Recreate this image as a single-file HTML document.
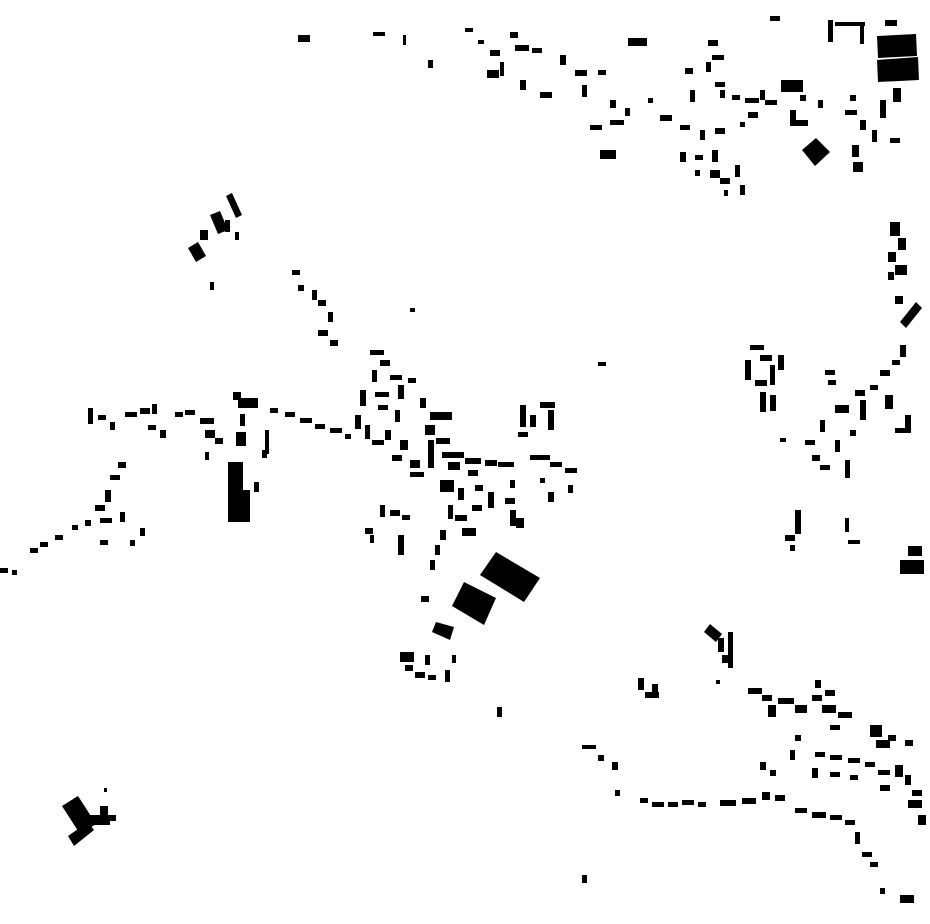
<!DOCTYPE html>
<html><head><meta charset="utf-8"><style>html,body{margin:0;padding:0;background:#fff}svg{display:block}</style></head>
<body>
<svg width="930" height="924" viewBox="0 0 930 924" xmlns="http://www.w3.org/2000/svg" fill="#000">
<!-- top right big blocks -->
<polygon points="877,36 916,34 917,56 878,58"/>
<polygon points="877,60 918,57 919,80 878,82"/>
<polygon points="802,150 816,138 830,152 815,166"/>
<rect x="781" y="80" width="22" height="12"/>
<rect x="885" y="20" width="12" height="6"/><rect x="770" y="16" width="10" height="5"/>
<rect x="828" y="20" width="5" height="22"/><rect x="835" y="22" width="30" height="4"/><rect x="860" y="24" width="4" height="20"/>
<rect x="852" y="145" width="7" height="12"/><rect x="853" y="162" width="10" height="10"/>
<rect x="893" y="88" width="8" height="14"/><rect x="880" y="100" width="6" height="18"/>
<rect x="600" y="150" width="16" height="9"/><rect x="628" y="38" width="19" height="8"/>
<rect x="298" y="35" width="12" height="7"/><rect x="373" y="32" width="12" height="4"/><rect x="403" y="35" width="3" height="10"/><rect x="428" y="60" width="5" height="8"/>
<!-- top cluster scatter -->
<g>
<rect x="465" y="28" width="8" height="4"/><rect x="478" y="40" width="6" height="4"/><rect x="490" y="50" width="10" height="6"/><rect x="487" y="70" width="12" height="8"/><rect x="500" y="62" width="4" height="14"/><rect x="510" y="32" width="8" height="6"/><rect x="515" y="45" width="14" height="6"/><rect x="532" y="48" width="10" height="5"/><rect x="540" y="92" width="12" height="6"/><rect x="520" y="80" width="6" height="10"/><rect x="560" y="55" width="6" height="10"/><rect x="575" y="70" width="12" height="6"/><rect x="582" y="85" width="5" height="12"/><rect x="598" y="70" width="8" height="5"/><rect x="610" y="100" width="6" height="8"/><rect x="590" y="125" width="12" height="5"/><rect x="610" y="120" width="14" height="5"/><rect x="625" y="108" width="5" height="8"/><rect x="648" y="98" width="5" height="5"/><rect x="660" y="115" width="12" height="6"/><rect x="685" y="68" width="8" height="6"/><rect x="690" y="90" width="5" height="12"/><rect x="708" y="40" width="10" height="6"/><rect x="712" y="55" width="12" height="5"/><rect x="706" y="62" width="5" height="10"/><rect x="715" y="82" width="10" height="5"/><rect x="720" y="90" width="5" height="8"/><rect x="732" y="95" width="8" height="5"/><rect x="745" y="98" width="14" height="5"/><rect x="748" y="112" width="10" height="6"/><rect x="765" y="100" width="12" height="5"/><rect x="790" y="110" width="6" height="16"/><rect x="796" y="120" width="12" height="6"/><rect x="818" y="100" width="5" height="8"/><rect x="845" y="110" width="12" height="5"/><rect x="860" y="120" width="6" height="10"/><rect x="872" y="130" width="5" height="12"/><rect x="890" y="138" width="10" height="5"/><rect x="850" y="95" width="6" height="6"/>
<rect x="680" y="125" width="10" height="5"/><rect x="700" y="130" width="5" height="10"/><rect x="715" y="128" width="10" height="6"/><rect x="680" y="152" width="6" height="10"/><rect x="695" y="155" width="8" height="5"/><rect x="712" y="150" width="6" height="12"/><rect x="710" y="170" width="10" height="8"/><rect x="720" y="178" width="10" height="6"/><rect x="735" y="165" width="5" height="12"/><rect x="740" y="185" width="5" height="10"/><rect x="724" y="190" width="4" height="6"/><rect x="695" y="170" width="5" height="6"/><rect x="740" y="122" width="5" height="5"/><rect x="760" y="90" width="5" height="10"/><rect x="800" y="95" width="6" height="6"/>
</g>
<!-- NW cluster -->
<polygon points="226,196 232,193 242,215 236,218"/><polygon points="210,215 220,211 228,230 218,234"/><polygon points="188,248 198,242 206,256 196,262"/><rect x="200" y="230" width="8" height="10"/><rect x="225" y="220" width="5" height="12"/><rect x="210" y="282" width="4" height="8"/><rect x="235" y="232" width="4" height="8"/>
<rect x="292" y="270" width="8" height="5"/><rect x="298" y="285" width="6" height="6"/><rect x="312" y="290" width="5" height="10"/><rect x="318" y="300" width="8" height="6"/><rect x="328" y="312" width="5" height="10"/><rect x="318" y="330" width="10" height="6"/><rect x="330" y="340" width="8" height="6"/><rect x="410" y="308" width="5" height="4"/><rect x="598" y="362" width="8" height="4"/>
<!-- central cluster -->
<g>
<rect x="233" y="392" width="8" height="8"/><rect x="238" y="398" width="20" height="10"/><rect x="236" y="432" width="10" height="14"/><rect x="240" y="414" width="5" height="12"/><rect x="265" y="430" width="4" height="24"/>
<rect x="228" y="462" width="15" height="60"/><rect x="236" y="490" width="14" height="32"/><rect x="254" y="482" width="5" height="10"/><rect x="262" y="450" width="5" height="8"/>
<rect x="270" y="408" width="8" height="5"/><rect x="285" y="412" width="10" height="5"/><rect x="300" y="418" width="12" height="5"/><rect x="315" y="424" width="10" height="5"/><rect x="330" y="428" width="12" height="5"/><rect x="345" y="434" width="6" height="5"/>
<rect x="370" y="350" width="14" height="5"/><rect x="380" y="360" width="10" height="6"/><rect x="372" y="370" width="5" height="12"/><rect x="390" y="375" width="12" height="5"/><rect x="398" y="385" width="6" height="14"/><rect x="408" y="378" width="8" height="5"/><rect x="360" y="390" width="6" height="16"/><rect x="375" y="392" width="14" height="5"/><rect x="378" y="405" width="10" height="5"/><rect x="355" y="415" width="6" height="14"/><rect x="365" y="425" width="5" height="14"/><rect x="372" y="440" width="12" height="5"/><rect x="385" y="430" width="6" height="10"/><rect x="395" y="410" width="5" height="12"/><rect x="400" y="440" width="8" height="10"/><rect x="392" y="455" width="10" height="6"/><rect x="410" y="460" width="10" height="8"/>
<rect x="420" y="398" width="6" height="10"/><rect x="430" y="412" width="22" height="8"/><rect x="425" y="425" width="10" height="10"/><rect x="428" y="440" width="6" height="28"/><rect x="436" y="438" width="14" height="6"/><rect x="442" y="452" width="22" height="6"/><rect x="448" y="462" width="12" height="8"/><rect x="465" y="458" width="16" height="6"/><rect x="468" y="470" width="10" height="6"/><rect x="485" y="460" width="12" height="6"/><rect x="498" y="462" width="16" height="5"/><rect x="530" y="455" width="20" height="5"/><rect x="550" y="462" width="12" height="5"/><rect x="565" y="468" width="12" height="5"/><rect x="410" y="472" width="14" height="5"/>
<rect x="520" y="405" width="6" height="22"/><rect x="530" y="415" width="6" height="12"/><rect x="540" y="402" width="15" height="6"/><rect x="548" y="410" width="6" height="20"/><rect x="518" y="432" width="10" height="5"/>
<rect x="440" y="480" width="14" height="12"/><rect x="458" y="488" width="6" height="12"/><rect x="475" y="485" width="8" height="6"/><rect x="488" y="492" width="6" height="16"/><rect x="472" y="505" width="10" height="6"/><rect x="455" y="515" width="12" height="6"/><rect x="448" y="505" width="5" height="14"/><rect x="462" y="528" width="14" height="8"/><rect x="440" y="530" width="6" height="10"/><rect x="435" y="545" width="5" height="10"/><rect x="430" y="560" width="5" height="10"/><rect x="505" y="498" width="10" height="6"/><rect x="510" y="510" width="6" height="16"/><rect x="516" y="518" width="8" height="10"/><rect x="510" y="480" width="5" height="8"/><rect x="548" y="492" width="6" height="10"/><rect x="568" y="485" width="5" height="8"/><rect x="540" y="478" width="5" height="5"/>
<rect x="380" y="505" width="5" height="12"/><rect x="390" y="510" width="10" height="6"/><rect x="402" y="515" width="8" height="5"/><rect x="365" y="528" width="8" height="6"/><rect x="370" y="535" width="4" height="8"/><rect x="398" y="535" width="6" height="20"/>
<polygon points="480,575 496,552 540,578 524,602"/>
<polygon points="452,606 464,582 496,598 484,625"/>
<polygon points="432,632 436,622 454,627 450,640"/>
<rect x="421" y="596" width="8" height="6"/>
<rect x="400" y="652" width="14" height="10"/><rect x="405" y="665" width="8" height="6"/><rect x="415" y="672" width="10" height="6"/><rect x="428" y="675" width="8" height="5"/><rect x="425" y="655" width="5" height="10"/><rect x="445" y="670" width="5" height="12"/><rect x="452" y="655" width="4" height="8"/><rect x="497" y="707" width="5" height="10"/>
</g>
<!-- west -->
<g>
<rect x="88" y="408" width="5" height="16"/><rect x="98" y="415" width="8" height="5"/><rect x="110" y="422" width="5" height="8"/><rect x="125" y="412" width="12" height="5"/><rect x="140" y="408" width="10" height="6"/><rect x="152" y="404" width="5" height="10"/><rect x="148" y="425" width="8" height="5"/><rect x="160" y="430" width="6" height="8"/><rect x="175" y="412" width="8" height="5"/><rect x="185" y="410" width="10" height="5"/><rect x="200" y="418" width="14" height="6"/><rect x="205" y="430" width="10" height="8"/><rect x="215" y="438" width="8" height="6"/><rect x="205" y="452" width="4" height="8"/>
<rect x="118" y="462" width="8" height="6"/><rect x="110" y="475" width="10" height="5"/><rect x="105" y="490" width="6" height="12"/><rect x="95" y="505" width="10" height="6"/><rect x="100" y="518" width="12" height="5"/><rect x="85" y="520" width="6" height="6"/><rect x="72" y="525" width="6" height="5"/><rect x="55" y="535" width="8" height="5"/><rect x="40" y="542" width="8" height="5"/><rect x="30" y="548" width="8" height="5"/><rect x="120" y="512" width="5" height="10"/><rect x="140" y="528" width="5" height="8"/><rect x="130" y="540" width="5" height="6"/><rect x="100" y="540" width="8" height="5"/><rect x="0" y="568" width="8" height="5"/><rect x="12" y="570" width="5" height="5"/>
</g>
<!-- east -->
<g>
<rect x="890" y="222" width="10" height="14"/><rect x="898" y="238" width="8" height="12"/><rect x="888" y="252" width="8" height="10"/><rect x="895" y="265" width="12" height="10"/><rect x="888" y="272" width="6" height="8"/>
<polygon points="900,322 916,302 922,308 906,328"/><rect x="895" y="296" width="8" height="8"/>
<rect x="750" y="345" width="14" height="5"/><rect x="745" y="360" width="6" height="20"/><rect x="760" y="355" width="12" height="6"/><rect x="770" y="365" width="5" height="20"/><rect x="778" y="355" width="6" height="15"/><rect x="755" y="380" width="12" height="6"/><rect x="760" y="392" width="6" height="20"/><rect x="770" y="395" width="6" height="16"/><rect x="825" y="370" width="10" height="5"/><rect x="828" y="380" width="8" height="5"/>
<rect x="835" y="405" width="14" height="8"/><rect x="855" y="390" width="10" height="6"/><rect x="860" y="400" width="6" height="20"/><rect x="870" y="385" width="8" height="5"/><rect x="880" y="370" width="10" height="6"/><rect x="892" y="360" width="8" height="5"/><rect x="900" y="345" width="6" height="12"/><rect x="885" y="395" width="8" height="14"/><rect x="905" y="415" width="6" height="18"/><rect x="895" y="428" width="10" height="5"/><rect x="820" y="420" width="5" height="12"/><rect x="805" y="440" width="10" height="5"/><rect x="812" y="455" width="8" height="6"/><rect x="820" y="465" width="10" height="5"/><rect x="835" y="440" width="5" height="12"/><rect x="845" y="460" width="5" height="18"/><rect x="850" y="430" width="6" height="6"/><rect x="780" y="438" width="6" height="4"/>
<rect x="795" y="510" width="6" height="24"/><rect x="785" y="535" width="10" height="6"/><rect x="790" y="545" width="5" height="6"/><rect x="845" y="518" width="4" height="14"/><rect x="848" y="540" width="12" height="4"/>
<rect x="908" y="546" width="14" height="10"/><rect x="900" y="560" width="24" height="14"/>
</g>
<!-- SE -->
<g>
<polygon points="704,632 710,624 722,634 716,642"/><rect x="718" y="638" width="6" height="14"/><rect x="728" y="632" width="5" height="36"/><rect x="722" y="655" width="8" height="8"/><rect x="716" y="680" width="4" height="4"/>
<rect x="638" y="678" width="6" height="12"/><rect x="645" y="692" width="14" height="6"/><rect x="652" y="684" width="6" height="8"/>
<rect x="748" y="688" width="14" height="6"/><rect x="762" y="695" width="10" height="6"/><rect x="768" y="705" width="8" height="12"/><rect x="778" y="698" width="16" height="6"/><rect x="795" y="705" width="12" height="8"/><rect x="812" y="695" width="10" height="6"/><rect x="815" y="680" width="6" height="8"/><rect x="825" y="690" width="10" height="6"/><rect x="822" y="705" width="14" height="8"/><rect x="838" y="712" width="14" height="6"/><rect x="830" y="725" width="10" height="5"/>
<rect x="870" y="725" width="12" height="12"/><rect x="876" y="740" width="14" height="8"/><rect x="888" y="735" width="8" height="6"/><rect x="905" y="740" width="8" height="6"/><rect x="795" y="735" width="6" height="6"/>
<rect x="790" y="750" width="5" height="10"/><rect x="815" y="752" width="10" height="5"/><rect x="830" y="755" width="12" height="5"/><rect x="848" y="758" width="12" height="5"/><rect x="865" y="762" width="10" height="5"/><rect x="878" y="770" width="12" height="5"/><rect x="895" y="765" width="8" height="12"/><rect x="905" y="775" width="6" height="10"/><rect x="812" y="768" width="6" height="10"/><rect x="830" y="772" width="10" height="5"/><rect x="850" y="775" width="8" height="5"/><rect x="760" y="762" width="6" height="8"/><rect x="770" y="770" width="6" height="6"/><rect x="880" y="785" width="10" height="6"/><rect x="912" y="790" width="10" height="6"/><rect x="908" y="800" width="14" height="8"/><rect x="918" y="815" width="8" height="10"/>
<rect x="582" y="745" width="14" height="4"/><rect x="598" y="755" width="6" height="6"/><rect x="612" y="762" width="6" height="8"/><rect x="615" y="790" width="5" height="6"/>
<rect x="640" y="798" width="8" height="5"/><rect x="652" y="802" width="12" height="5"/><rect x="668" y="802" width="10" height="5"/><rect x="682" y="800" width="12" height="5"/><rect x="698" y="802" width="8" height="5"/><rect x="720" y="800" width="16" height="6"/><rect x="742" y="798" width="14" height="6"/><rect x="762" y="792" width="8" height="8"/><rect x="775" y="795" width="10" height="6"/><rect x="795" y="808" width="12" height="5"/><rect x="812" y="812" width="14" height="6"/><rect x="830" y="815" width="12" height="5"/><rect x="845" y="820" width="10" height="5"/><rect x="855" y="832" width="5" height="12"/><rect x="862" y="852" width="10" height="5"/><rect x="870" y="862" width="8" height="5"/><rect x="880" y="888" width="5" height="6"/><rect x="900" y="895" width="14" height="8"/><rect x="582" y="875" width="5" height="8"/>
</g>
<!-- SW -->
<polygon points="62,806 78,796 96,824 80,834"/><polygon points="68,836 88,822 94,830 74,846"/><rect x="90" y="815" width="20" height="10"/><rect x="100" y="806" width="8" height="10"/><rect x="110" y="815" width="6" height="6"/><rect x="104" y="788" width="3" height="4"/>
</svg>
</body></html>
